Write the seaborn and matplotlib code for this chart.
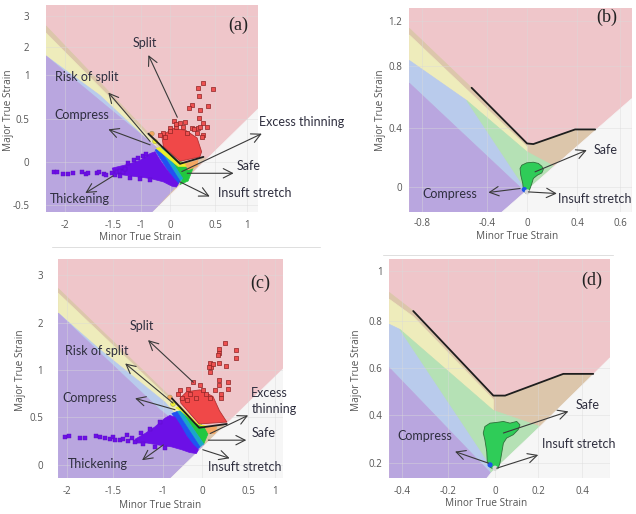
import numpy as np
import matplotlib
matplotlib.use("Agg")
import matplotlib.pyplot as plt
from matplotlib.lines import Line2D
import seaborn as sns

# zone colours of the forming limit diagram
PINK = "#efc6ca"
TAN = "#dcc6ab"
YELLOW = "#eeecbb"
BLUE = "#b9cbec"
PURPLE = "#b9a6df"
GREEN = "#b5e1b5"
WHITE = "#f6f6f6"

# ---------------- panel (a) ----------------
A_XTICKS = [-2, -1.5, -1, 0, 0.5, 1]
A_YTICKS = [-0.5, 0, 0.5, 1, 2, 3]
A_TAN = [(-2.2, 2.68), (-0.76, 0.34), (0.11, -0.01), (0.40, 0.05), (-0.62, -0.58), (-2.2, -0.58)]
A_YELLOW = [(-2.2, 2.45), (-0.69, 0.28), (-0.48, 0.19), (0.07, -0.09), (-0.62, -0.58), (-2.2, -0.58)]
A_BLUE = [(-2.2, 1.68), (-1.64, 0.77), (-0.41, 0.14), (0.07, -0.15), (-0.62, -0.58), (-2.2, -0.58)]
A_PURPLE = [(-2.2, 1.68), (-1.64, 0.71), (0.20, -0.13), (-0.62, -0.58), (-2.2, -0.58)]
A_WHITE = [(1.17, 0.63), (1.17, -0.58), (-0.62, -0.58)]
A_FLC = [(-0.75, 0.33), (0.11, -0.02), (0.37, 0.06)]
A_RED_CORE = [(-0.29, 0.31), (0.04, 0.39), (0.17, 0.37), (0.30, 0.28), (0.35, 0.12),
              (0.33, 0.06), (0.11, 0.01), (-0.23, 0.18)]
A_RED_X = [0.37, 0.48, 0.31, 0.32, 0.24, 0.21, 0.33, 0.42, 0.32, 0.37, 0.31, 0.24, 0.36,
           0.04, 0.11, 0.14, 0.07, 0.0, -0.24, -0.34, -0.17, 0.19, 0.30, 0.35, 0.41, 0.33,
           -0.02, 0.07, 0.17, 0.26]
A_RED_Y = [0.91, 0.84, 0.85, 0.76, 0.66, 0.63, 0.60, 0.65, 0.51, 0.45, 0.40, 0.40, 0.31,
           0.48, 0.45, 0.41, 0.41, 0.40, 0.34, 0.31, 0.29, 0.34, 0.34, 0.29, 0.41, 0.41,
           0.36, 0.44, 0.47, 0.39]
A_PURPLE_BLOB = [(-1.51, -0.07), (-1.26, -0.03), (-1.02, 0.02), (-0.69, 0.10), (-0.52, 0.12),
                 (-0.34, 0.02), (-0.11, -0.09), (0.04, -0.19), (0.09, -0.25), (0.07, -0.29),
                 (0.02, -0.28), (-0.23, -0.23), (-0.69, -0.19), (-1.08, -0.17), (-1.32, -0.15),
                 (-1.49, -0.13)]
A_TAIL_X = [-2.12, -2.09, -2.02, -1.97, -1.92, -1.82, -1.78, -1.76, -1.67, -1.65, -1.60,
            -1.57, -1.51, -1.46, -1.43, -1.38, -1.32, -1.29,
            -1.23, -1.125, -1.05, -0.93, -0.83, -1.375, -1.2, -1.02, -0.69]
A_TAIL_Y = [-0.12, -0.12, -0.14, -0.14, -0.13, -0.12, -0.14, -0.13, -0.13, -0.11, -0.14,
            -0.15, -0.13, -0.15, -0.11, -0.10, -0.12, -0.08,
            -0.01, 0.02, 0.05, 0.07, 0.09, -0.16, -0.19, -0.20, -0.21]
A_STRIPES = [
    ([(-0.24, 0.17), (0.09, 0.01), (0.27, -0.03), (0.20, -0.22), (0.11, -0.26), (0.14, -0.19)], "#22c840"),
    ([(-0.38, 0.16), (-0.24, 0.17), (0.14, -0.19), (0.11, -0.22)], "#1aa7c9"),
    ([(-0.52, 0.14), (-0.38, 0.16), (0.11, -0.22), (0.08, -0.27)], "#2152f2"),
    ([(-0.48, 0.16), (-0.34, 0.17), (0.09, -0.01), (0.24, -0.01), (0.26, -0.05), (0.09, -0.05)], "#eef02a"),
    ([(0.17, -0.02), (0.31, 0.02), (0.30, -0.05), (0.20, -0.09)], "#f4a762"),
]
A_DOT_X = [-0.63, -0.52]
A_DOT_Y = [0.33, 0.24]
A_ARROWS = [((0.08, 0.52), (-0.75, 1.71)), ((-0.69, 0.24), (-1.55, 0.80)),
            ((-0.69, 0.20), (-1.55, 0.38)), ((0.13, -0.11), (1.23, 0.33)),
            ((0.19, -0.13), (0.79, -0.13)), ((0.11, -0.23), (0.44, -0.40)),
            ((-1.5, -0.16), (-1.79, -0.36))]
A_LABELS = [("Split", -0.88, 2.14, "center"), ("Risk of split", -1.78, 0.98, "center"),
            ("Compress", -1.83, 0.55, "center"), ("Excess thinning", 1.18, 0.46, "left"),
            ("Safe", 0.84, -0.04, "left"), ("Insuft stretch", 0.55, -0.36, "left"),
            ("Thickening", -1.85, -0.43, "center")]

# ---------------- panel (b) ----------------
B_XTICKS = [-0.8, -0.4, 0, 0.4, 0.6]
B_YTICKS = [0, 0.4, 0.8, 1.2]
B_TAN = [(-0.878, 1.135), (-0.495, 0.66), (0, 0.296), (0.05, 0.292), (0.384, 0.391), (0.49, 0.391),
         (0.21, 0.144), (0, 0.239), (0, 0.273), (-0.878, 1.076)]
B_YELLOW = [(-0.878, 1.076), (0, 0.273), (0, 0.239), (-0.525, 0.578), (-0.878, 0.85)]
B_BLUE = [(-0.878, 0.85), (-0.525, 0.578), (-0.03, 0.002), (-0.02, -0.032), (-0.878, 0.69)]
B_GREEN = [(-0.525, 0.578), (0, 0.239), (0.21, 0.144), (-0.02, -0.032), (-0.03, 0.002)]
B_PURPLE = [(-0.878, 0.69), (-0.02, -0.032), (-0.253, -0.17), (-0.878, -0.17)]
B_WHITE = [(0.654, 0.59), (0.654, -0.17), (-0.253, -0.17), (-0.02, -0.032), (0.49, 0.391)]
B_FLC = [(-0.495, 0.66), (0, 0.296), (0.05, 0.292), (0.384, 0.391), (0.484, 0.391)]
B_BLOB = [(-0.053, 0.149), (-0.003, 0.165), (0.050, 0.169), (0.090, 0.161), (0.118, 0.142),
          (0.130, 0.12), (0.118, 0.097), (0.082, 0.081), (0.050, 0.059), (0.038, 0.025),
          (0.024, -0.009), (0.010, -0.039), (-0.01, -0.043), (-0.037, -0.02), (-0.043, 0.025),
          (-0.063, 0.081), (-0.07, 0.127)]
B_DOT_X = [-0.027, 0.002]
B_DOT_Y = [-0.016, -0.032]
B_ARROWS = [((0.064, 0.104), (0.445, 0.251)), ((-0.07, -0.009), (-0.387, -0.036)),
            ((0.01, -0.032), (0.238, -0.043))]
B_LABELS = [("Safe", 0.476, 0.25, "left"), ("Compress", -0.63, -0.043, "center"),
            ("Insuft stretch", 0.25, -0.077, "left")]

# ---------------- panel (c) ----------------
C_XTICKS = [-2, -1.5, -1, 0, 0.5, 1]
C_YTICKS = [0, 0.5, 1, 2, 3]
C_TAN = [(-2.09, 2.72), (-0.77, 0.70), (-0.07, 0.39), (0.27, 0.43), (-0.82, -0.14), (-2.09, -0.14)]
C_YELLOW = [(-2.09, 2.62), (-0.67, 0.63), (-0.18, 0.35), (-0.82, -0.14), (-2.09, -0.14)]
C_BLUE = [(-2.09, 2.21), (-1.64, 1.43), (-0.95, 0.66), (-0.10, 0.25), (-0.82, -0.14), (-2.09, -0.14)]
C_PURPLE = [(-2.09, 2.21), (-1.64, 1.36), (-1.03, 0.58), (0.03, 0.21), (-0.82, -0.14), (-2.09, -0.14)]
C_WHITE = [(1.16, 1.04), (1.16, -0.14), (-0.82, -0.14)]
C_FLC = [(-0.77, 0.70), (-0.07, 0.39), (0.27, 0.43)]
C_RED_CORE = [(-0.56, 0.70), (-0.39, 0.77), (-0.05, 0.79), (0.12, 0.72), (0.19, 0.57),
              (0.27, 0.45), (-0.07, 0.43), (-0.54, 0.65)]
C_RED_X = [0.25, 0.37, 0.37, 0.18, 0.19, 0.17, 0.09, 0.10, 0.18, 0.26, 0.09, 0.12, 0.08,
           0.19, 0.28, 0.18, 0.28, 0.21, 0.14, -0.22, -0.05, 0.01, -0.35, -0.31, -0.56,
           -0.61, -0.52, -0.39, 0.05, 0.09, -0.14, 0.21]
C_RED_Y = [1.57, 1.43, 1.25, 1.36, 1.46, 1.32, 1.14, 1.07, 1.14, 1.09, 0.98, 1.13, 1.07,
           0.89, 0.87, 0.84, 0.80, 0.75, 0.79, 0.87, 0.84, 0.79, 0.80, 0.75, 0.79,
           0.75, 0.70, 0.68, 0.75, 0.70, 0.70, 0.70]
C_PURPLE_BLOB = [(-1.28, 0.27), (-1.18, 0.33), (-1.08, 0.40), (-0.95, 0.49), (-0.82, 0.52),
                 (-0.69, 0.50), (-0.56, 0.42), (-0.39, 0.30), (-0.22, 0.21), (-0.09, 0.16),
                 (-0.14, 0.12), (-0.31, 0.13), (-0.52, 0.16), (-0.78, 0.19), (-1.05, 0.21),
                 (-1.16, 0.23), (-1.26, 0.23)]
C_TAIL_X = [-2.02, -1.98, -1.86, -1.80, -1.68, -1.64, -1.59, -1.54, -1.50, -1.48, -1.43,
            -1.40, -1.36, -1.35, -1.31, -1.28, -1.22, -1.13, -1.03, -1.20, -1.08, -0.95]
C_TAIL_Y = [0.29, 0.30, 0.28, 0.28, 0.30, 0.29, 0.28, 0.27, 0.29, 0.26, 0.26,
            0.27, 0.31, 0.25, 0.28, 0.24, 0.33, 0.38, 0.45, 0.22, 0.19, 0.18]
C_STRIPES = [
    ([(-0.54, 0.57), (-0.23, 0.46), (0.09, 0.38), (0.05, 0.29), (0.02, 0.22)], "#22c840"),
    ([(-0.64, 0.56), (-0.54, 0.57), (0.02, 0.22), (-0.05, 0.19)], "#1aa7c9"),
    ([(-0.77, 0.54), (-0.64, 0.56), (-0.05, 0.19), (-0.15, 0.15)], "#2152f2"),
    ([(-0.67, 0.60), (-0.56, 0.62), (-0.08, 0.42), (0.11, 0.40), (0.09, 0.37), (-0.23, 0.46),
      (-0.54, 0.57)], "#eef02a"),
    ([(0.03, 0.40), (0.16, 0.40), (0.14, 0.33), (0.07, 0.33)], "#f4a762"),
]
C_DOT_X = [-0.82, -0.74]
C_DOT_Y = [0.71, 0.64]
C_ARROWS = [((-0.22, 0.87), (-1.15, 1.64)), ((-0.74, 0.65), (-1.38, 1.14)),
            ((-0.69, 0.58), (-1.28, 0.70)), ((0.09, 0.33), (0.50, 0.52)),
            ((0.07, 0.26), (0.48, 0.26)), ((0.01, 0.16), (0.30, 0.07)),
            ((-0.99, 0.21), (-1.21, 0.05))]
C_LABELS = [("Split", -1.21, 1.94, "center"), ("Risk of split", -1.68, 1.41, "center"),
            ("Compress", -1.75, 0.70, "center"), ("Excess\nthinning", 0.56, 0.67, "left"),
            ("Safe", 0.56, 0.33, "left"), ("Insuft stretch", 0.07, -0.02, "left"),
            ("Thickening", -1.66, 0.01, "center")]

# ---------------- panel (d) ----------------
D_XTICKS = [-0.4, -0.2, 0, 0.2, 0.4]
D_YTICKS = [0.2, 0.4, 0.6, 0.8, 1.0]
D_TAN = [(-0.455, 0.915), (-0.351, 0.841), (-0.007, 0.481), (0.047, 0.481), (0.315, 0.573),
         (0.451, 0.571), (0.209, 0.351), (-0.007, 0.418), (-0.007, 0.464), (-0.351, 0.819),
         (-0.455, 0.888)]
D_YELLOW = [(-0.455, 0.888), (-0.351, 0.819), (-0.007, 0.464), (-0.007, 0.418), (-0.409, 0.765),
            (-0.455, 0.787)]
D_BLUE = [(-0.455, 0.787), (-0.409, 0.765), (-0.021, 0.192), (-0.018, 0.157), (-0.455, 0.599)]
D_GREEN = [(-0.409, 0.765), (-0.007, 0.418), (0.209, 0.351), (-0.018, 0.157), (-0.021, 0.192)]
D_PURPLE = [(-0.455, 0.599), (-0.018, 0.157), (-0.035, 0.136), (-0.455, 0.136)]
D_WHITE = [(0.527, 0.642), (0.527, 0.136), (-0.035, 0.136), (-0.018, 0.157), (0.209, 0.351),
           (0.451, 0.571)]
D_FLC = [(-0.351, 0.841), (-0.007, 0.481), (0.047, 0.481), (0.315, 0.573), (0.451, 0.573)]
D_BLOB = [(-0.043, 0.351), (-0.021, 0.365), (0.008, 0.368), (0.039, 0.372), (0.070, 0.365),
          (0.101, 0.372), (0.116, 0.358), (0.108, 0.338), (0.085, 0.317), (0.054, 0.303),
          (0.039, 0.282), (0.031, 0.240), (0.023, 0.199), (0.015, 0.178), (0.0, 0.171),
          (-0.021, 0.182), (-0.033, 0.205), (-0.035, 0.247), (-0.043, 0.296), (-0.05, 0.324)]
D_DOT_X = [-0.021, 0.0]
D_DOT_Y = [0.192, 0.178]
D_ARROWS = [((0.039, 0.324), (0.338, 0.414)), ((-0.028, 0.199), (-0.17, 0.247)),
            ((0.008, 0.178), (0.201, 0.233))]
D_LABELS = [("Safe", 0.369, 0.443, "left"), ("Compress", -0.30, 0.31, "center"),
            ("Insuft stretch", 0.217, 0.279, "left")]

sns.set_theme(style="white")
plt.rcParams["font.family"] = ["Open Sans", "DejaVu Sans"]

fig = plt.figure(figsize=(6.36, 5.14), dpi=100)


def warp(vals, pos):
    # piecewise linear axis, matching the uneven tick spacing of the original
    v = np.asarray(vals, float)
    p = np.asarray(pos, float)
    v = np.r_[v[0] - 100 * (v[1] - v[0]), v, v[-1] + 100 * (v[-1] - v[-2])]
    p = np.r_[p[0] - 100 * (p[1] - p[0]), p, p[-1] + 100 * (p[-1] - p[-2])]
    return (lambda x: np.interp(x, v, p)), (lambda y: np.interp(y, p, v))


def poly(ax, pts, color, z=1.0, ec=None, lw=0.5):
    xs, ys = zip(*pts)
    ax.fill(xs, ys, facecolor=color, edgecolor=ec or color, lw=lw, zorder=z)


def make_panel(rect, xt, xp, yt, yp, xpad, ypad):
    ax = fig.add_axes(rect)
    ax.set_xscale("function", functions=warp(xt, xp))
    ax.set_yscale("function", functions=warp(yt, [-v for v in yp]))
    ax.set_facecolor(PINK)
    for s in ax.spines.values():
        s.set_visible(False)
    ax.grid(True, color="#dadada", lw=0.5, alpha=0.6)
    ax.set_axisbelow("line")
    ax.tick_params(axis="x", length=0, pad=xpad, labelsize=7, labelcolor="#555555")
    ax.tick_params(axis="y", length=0, pad=ypad, labelsize=7, labelcolor="#555555")
    return ax


def finish(ax, xt, yt, xlim, ylim, xlab, ylab, tag, tagpos):
    ax.set_xlim(*xlim)
    ax.set_ylim(*ylim)
    ax.set_xticks(xt, [f"{v:g}" for v in xt])
    ax.set_yticks(yt, [f"{v:g}" for v in yt])
    ax.set_xlabel("Minor True Strain", fontsize=7.2, color="#555555")
    ax.set_ylabel("Major True Strain", fontsize=7.2, color="#555555")
    ax.xaxis.set_label_coords(*xlab)
    ax.yaxis.set_label_coords(*ylab)
    ax.text(*tagpos, tag, transform=ax.transAxes, family="Liberation Serif",
            fontsize=13, ha="center", va="center", color="#222222", zorder=8)


def annotate(ax, arrows, labels):
    for start, tip in arrows:
        ax.annotate("", xy=tip, xytext=start, annotation_clip=False, zorder=6,
                    arrowprops=dict(arrowstyle="->,head_length=0.55,head_width=0.28",
                                    color="#3a3a3a", lw=0.8, shrinkA=0, shrinkB=0))
    for text, x, y, ha in labels:
        ax.text(x, y, text, ha=ha, va="center", fontsize=9, family=["Lato", "DejaVu Sans"],
                color="#2e2e3e", clip_on=False, zorder=7, linespacing=1.45)


def flc_line(ax, pts):
    xs, ys = zip(*pts)
    ax.plot(xs, ys, color="#1e1e1e", lw=1.3, zorder=4)


def wide_panel(ax, zones, flc, core, red_x, red_y, blob, tail_x, tail_y, stripes, dot_x, dot_y):
    for pts, col in zones:
        poly(ax, pts, col, z=1)
    flc_line(ax, flc)
    for pts, col in stripes:
        poly(ax, pts, col, z=2.2)
    poly(ax, blob, "#6c10e6", z=2.4)
    sns.scatterplot(x=tail_x, y=tail_y, marker="s", s=9, color="#6c10e6", edgecolor="#5a0bc4",
                    linewidth=0.3, ax=ax, zorder=3, legend=False)
    poly(ax, core, "#f04848", z=2.5, ec="#b53232", lw=0.6)
    sns.scatterplot(x=red_x, y=red_y, marker="s", s=10, color="#ee5050", edgecolor="#8e2424",
                    linewidth=0.5, ax=ax, zorder=3.2, legend=False)
    sns.scatterplot(x=dot_x, y=dot_y, marker="o", s=12, hue=["o", "y"],
                    palette={"o": "#f2a65e", "y": "#eeee30"}, edgecolor="#999966",
                    linewidth=0.3, ax=ax, zorder=3.3, legend=False)


def narrow_panel(ax, zones, flc, blob, dot_x, dot_y):
    for pts, col in zones:
        poly(ax, pts, col, z=1)
    flc_line(ax, flc)
    poly(ax, blob, "#2fcc58", z=2.5, ec="#2f6f3a", lw=0.6)
    sns.scatterplot(x=dot_x, y=dot_y, marker="o", s=14, hue=["b", "g"],
                    palette={"b": "#1f55e8", "g": "#d8d8d8"}, edgecolor="none",
                    ax=ax, zorder=3, legend=False)


# (a)
A_XP, A_YP = [65, 113, 141, 170, 215, 247], [205, 162, 119, 75, 47, 16]
ax_a = make_panel([0.0723, 0.5875, 0.3333, 0.4027], A_XTICKS, A_XP, A_YTICKS, A_YP, 5.8, 12)
wide_panel(ax_a, [(A_TAN, TAN), (A_YELLOW, YELLOW), (A_BLUE, BLUE), (A_PURPLE, PURPLE), (A_WHITE, WHITE)],
           A_FLC, A_RED_CORE, A_RED_X, A_RED_Y, A_PURPLE_BLOB, A_TAIL_X, A_TAIL_Y, A_STRIPES,
           A_DOT_X, A_DOT_Y)
annotate(ax_a, A_ARROWS, A_LABELS)
finish(ax_a, A_XTICKS, A_YTICKS, (-2.2, 1.17), (-0.58, 3.35), (0.443, -0.097), (-0.152, 0.493),
       "(a)", (0.907, 0.903))

# (b)
B_XP, B_YP = [422, 487, 527, 577, 620], [187, 128, 66, 21]
ax_b = make_panel([0.6436, 0.5870, 0.3497, 0.3969], B_XTICKS, B_XP, B_YTICKS, B_YP, 3.8, 5)
narrow_panel(ax_b, [(B_TAN, TAN), (B_YELLOW, YELLOW), (B_BLUE, BLUE), (B_GREEN, GREEN),
                    (B_PURPLE, PURPLE), (B_WHITE, WHITE)], B_FLC, B_BLOB, B_DOT_X, B_DOT_Y)
annotate(ax_b, B_ARROWS, B_LABELS)
finish(ax_b, B_XTICKS, B_YTICKS, (-0.878, 0.654), (-0.17, 1.313), (0.483, -0.092), (-0.104, 0.501),
       "(b)", (0.887, 0.957))

# (c)
C_XP, C_YP = [66.7, 113.3, 163, 202, 248.3, 275], [465, 417.3, 370, 323.3, 275]
ax_c = make_panel([0.0917, 0.0694, 0.3538, 0.4266], C_XTICKS, C_XP, C_YTICKS, C_YP, 5.2, 11)
wide_panel(ax_c, [(C_TAN, TAN), (C_YELLOW, YELLOW), (C_BLUE, BLUE), (C_PURPLE, PURPLE), (C_WHITE, WHITE)],
           C_FLC, C_RED_CORE, C_RED_X, C_RED_Y, C_PURPLE_BLOB, C_TAIL_X, C_TAIL_Y, C_STRIPES,
           C_DOT_X, C_DOT_Y)
annotate(ax_c, C_ARROWS, C_LABELS)
finish(ax_c, C_XTICKS, C_YTICKS, (-2.09, 1.16), (-0.14, 3.33), (0.452, -0.097), (-0.142, 0.494),
       "(c)", (0.896, 0.889))

# (d)
D_XP, D_YP = [402, 448, 495, 538, 582], [463, 415, 368, 322, 272]
ax_d = make_panel([0.6121, 0.0694, 0.3470, 0.4266], D_XTICKS, D_XP, D_YTICKS, D_YP, 5.2, 5)
narrow_panel(ax_d, [(D_TAN, TAN), (D_YELLOW, YELLOW), (D_BLUE, BLUE), (D_GREEN, GREEN),
                    (D_PURPLE, PURPLE), (D_WHITE, WHITE)], D_FLC, D_BLOB, D_DOT_X, D_DOT_Y)
annotate(ax_d, D_ARROWS, D_LABELS)
finish(ax_d, D_XTICKS, D_YTICKS, (-0.455, 0.527), (0.136, 1.048), (0.441, -0.089), (-0.125, 0.494),
       "(d)", (0.917, 0.904))

# faint separators under the top row
fig.add_artist(Line2D([52 / 636, 320 / 636], [1 - 247 / 514] * 2, color="#dedede", lw=0.7))
fig.add_artist(Line2D([383 / 636, 613 / 636], [1 - 255 / 514] * 2, color="#dedede", lw=0.7))

fig.savefig("out.png", dpi=100)
